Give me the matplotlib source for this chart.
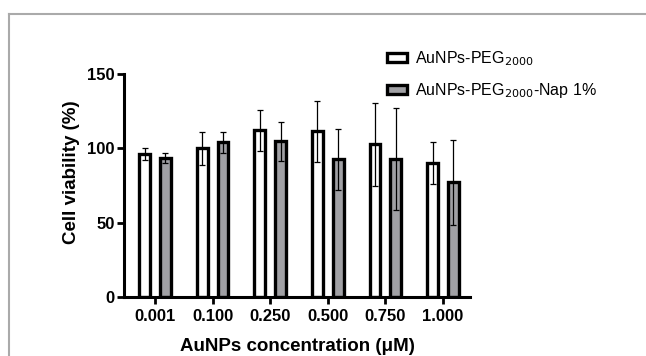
import matplotlib
matplotlib.use("Agg")
import matplotlib.pyplot as plt
from matplotlib.lines import Line2D
import numpy as np

plt.rcParams['font.family'] = ['Liberation Sans', 'DejaVu Sans']

concentrations = ['0.001', '0.100', '0.250', '0.500', '0.750', '1.000']
peg_mean = [96.4, 100.0, 112.0, 111.4, 102.7, 90.1]
peg_sd = [4.0, 11.0, 14.0, 20.4, 28.0, 14.4]
nap_mean = [93.3, 104.0, 104.7, 92.6, 92.8, 77.1]
nap_sd = [3.5, 7.2, 13.0, 20.6, 34.1, 28.5]
labels = ['AuNPs-PEG$_{2000}$', 'AuNPs-PEG$_{2000}$-Nap 1%']

W, H = 646, 356
fig = plt.figure(figsize=(W / 100, H / 100), dpi=100)
ax = fig.add_axes([124 / W, 1 - 297 / H, 346 / W, 223 / H])

x = np.arange(len(concentrations))
w = 0.19
off = 0.18
err_kw = dict(elinewidth=0.9, capsize=2.5, capthick=0.9, ecolor='black')
ax.bar(x - off, peg_mean, w, yerr=peg_sd, color='white', edgecolor='black',
       linewidth=2.4, error_kw=err_kw, label=labels[0], zorder=2)
ax.bar(x + off, nap_mean, w, yerr=nap_sd, color='#a0a0a4', edgecolor='black',
       linewidth=2.4, error_kw=err_kw, label=labels[1], zorder=2)

ax.set_xlim(-0.54, 5.47)
ax.set_ylim(0, 150)
ax.set_yticks([0, 50, 100, 150])
ax.set_xticks(x)
ax.set_xticklabels(concentrations)
for s in ['top', 'right']:
    ax.spines[s].set_visible(False)
for s in ['left', 'bottom']:
    ax.spines[s].set_linewidth(2.2)
ax.tick_params(width=2, length=5, labelsize=12)
ax.tick_params(axis='y', pad=1.5)
for t in ax.get_xticklabels() + ax.get_yticklabels():
    t.set_fontweight('bold')
ax.set_ylabel('Cell viability (%)', fontsize=13.5, fontweight='bold')
ax.set_xlabel('AuNPs concentration (μM)', fontsize=13.5, fontweight='bold')
ax.yaxis.set_label_coords(-0.127, 0.56)
ax.xaxis.set_label_coords(0.5, -0.184)

ax.legend(loc='center left', bbox_to_anchor=(387 / W, 1 - 74.5 / H),
          bbox_transform=fig.transFigure, frameon=False, borderpad=0,
          borderaxespad=0, fontsize=11.5, handlelength=1.25, handleheight=0.5,
          handletextpad=0.5, labelspacing=0.85)

# light grey frame around the panel
fig.add_artist(Line2D([9 / W, 9 / W], [0, 1 - 14 / H], color='#aaaaaa', lw=1.5))
fig.add_artist(Line2D([9 / W, 1], [1 - 14 / H, 1 - 14 / H], color='#aaaaaa', lw=1.5))

fig.savefig('out.png', dpi=100)
